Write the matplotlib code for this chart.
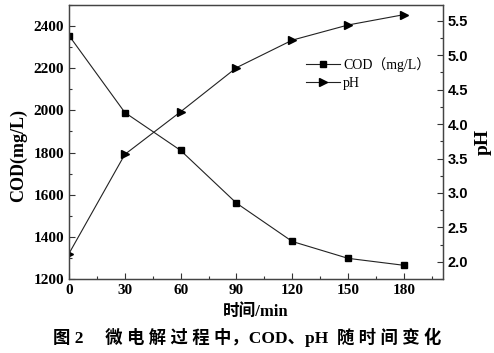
import matplotlib.pyplot as plt
from matplotlib.ticker import MultipleLocator

# datos
t = [0, 30, 60, 90, 120, 150, 180]
cod = [2355, 1990, 1810, 1560, 1378, 1298, 1265]
ph = [2.12, 3.56, 4.18, 4.82, 5.22, 5.44, 5.59]

serif = ['Liberation Serif', 'Noto Sans CJK SC']

fig = plt.figure(figsize=(4.94, 3.53), dpi=100)
ax = fig.add_axes([0.1397, 0.2096, 0.7571, 0.7762])
ax2 = ax.twinx()

l1, = ax.plot(t, cod, '-', color='#222222', linewidth=0.8, marker='s', markersize=5,
              markerfacecolor='black', markeredgecolor='black')
l2, = ax2.plot(t, ph, '-', color='#222222', linewidth=0.8, marker='>', markersize=6,
               markerfacecolor='black', markeredgecolor='black')

ax.set_xlim(0, 201)
ax.set_ylim(1200, 2500)
ax2.set_ylim(1.75, 5.73)

ax.xaxis.set_major_locator(MultipleLocator(30))
ax.xaxis.set_minor_locator(MultipleLocator(15))
ax.yaxis.set_major_locator(MultipleLocator(200))
ax.yaxis.set_minor_locator(MultipleLocator(100))
ax2.yaxis.set_major_locator(MultipleLocator(0.5))
ax2.yaxis.set_minor_locator(MultipleLocator(0.25))

for a in (ax, ax2):
    a.tick_params(which='both', direction='in', width=0.8, color='#333333')
    a.tick_params(which='major', length=4)
    a.tick_params(which='minor', length=2.5)
    for s in a.spines.values():
        s.set_color('#444444')
        s.set_linewidth(0.9)

ax.tick_params(top=False, labelsize=11)
for lab in ax.get_xticklabels() + ax.get_yticklabels():
    lab.set_family(serif)
    lab.set_fontweight('bold')
ax2.tick_params(labelsize=10.5)
for lab in ax2.get_yticklabels():
    lab.set_family('Liberation Sans')
    lab.set_fontweight('bold')

ax.set_ylabel('COD(mg/L)', family=serif, fontweight='bold', fontsize=13)
ax.yaxis.set_label_coords(-0.112, 0.45)
ax2.set_ylabel('pH', family=serif, fontweight='bold', fontsize=14)
ax2.yaxis.set_label_coords(1.086, 0.5)
ax.set_xlabel('时间/min', family=serif, fontweight='bold', fontsize=12, labelpad=5)

leg = ax.legend([l1, l2], ['COD（mg/L）', 'pH'], loc='upper left',
                bbox_to_anchor=(0.62, 0.83), frameon=False, handlelength=2.4,
                handletextpad=0.25, labelspacing=0.35, borderaxespad=0,
                prop={'family': serif, 'size': 10})

fig.text(0.5, 0.045, '图 2　 微 电 解 过 程 中，COD、pH  随 时 间 变 化', ha='center',
         va='center', family=serif, fontweight='bold', fontsize=12.5)

fig.savefig('out.png', dpi=100)
